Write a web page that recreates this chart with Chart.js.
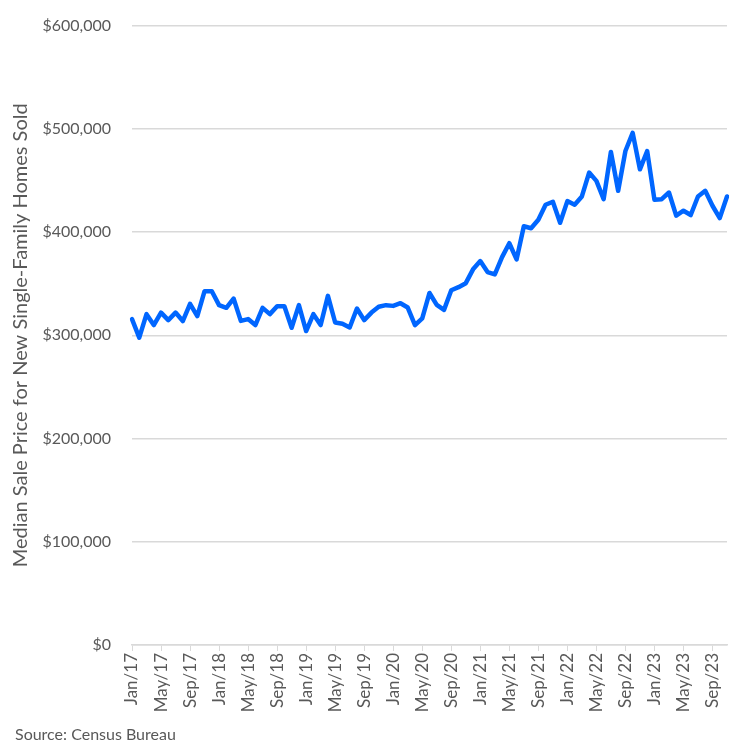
<!DOCTYPE html><html lang="en"><head>
<meta charset="UTF-8">
<title>Median Sale Price for New Single-Family Homes Sold</title>
<script src="https://cdn.jsdelivr.net/npm/chart.js@4.4.1/dist/chart.umd.min.js"></script>
<style>
  body { margin: 0; background: #fff; }
  #wrap { position: relative; width: 750px; height: 751px; }
  #source { position: absolute; left: 15px; top: 724px; font: 16px Lato, sans-serif; color: #595959; }
</style>
</head>
<body>
<div id="wrap">
  <canvas id="myChart"></canvas>
  <div id="source">Source: Census Bureau</div>
</div>
<script>
  // Monthly, Jan 2017 - Nov 2023
  const years = ['17', '18', '19', '20', '21', '22', '23'];
  const months = ['Jan', 'Feb', 'Mar', 'Apr', 'May', 'Jun', 'Jul', 'Aug', 'Sep', 'Oct', 'Nov', 'Dec'];
  const prices = [
    315700, 297700, 320500, 309900, 322000, 314700, 322000, 313800, 330400, 318600, 342700, 342700,
    329200, 326600, 335600, 314000, 315700, 309900, 326600, 320500, 328200, 328200, 307300, 329200,
    304100, 320500, 309900, 338200, 312400, 311200, 307600, 325900, 314700, 322000, 327600, 329200,
    328500, 331100, 326900, 309900, 316500, 341000, 329500, 324600, 343600, 346600, 350500, 363900,
    371900, 361300, 359000, 375700, 389200, 373500, 405600, 403700, 412000, 426500, 429400, 409000,
    430000, 426500, 434500, 457600, 449600, 431900, 477600, 440000, 478500, 496100, 460800, 478500,
    431300, 431900, 438300, 415900, 420700, 416500, 434500, 440000, 425500, 413600, 434500
  ];

  const labels = [];
  years.forEach(y => months.forEach(m => labels.push(m + '/' + y)));
  labels.length = prices.length;

  const grey = '#595959';
  const gridGrey = '#d9d9d9';

  const ctx = document.getElementById('myChart').getContext('2d');
  const myChart = new Chart(ctx, {
    type: 'line',
    data: {
      labels: labels,
      datasets: [{
        label: 'Median Sale Price',
        data: prices,
        borderColor: '#0066ff',
        borderWidth: 4.5,
        borderJoinStyle: 'round',
        borderCapStyle: 'round',
        pointRadius: 0,
        tension: 0,
        fill: false
      }]
    },
    options: {
      responsive: true,
      maintainAspectRatio: false,
      animation: false,
      layout: { padding: { top: 22, right: 23, bottom: 40, left: 9 } },
      plugins: { legend: { display: false }, tooltip: { enabled: false } },
      scales: {
        x: {
          offset: false,
          border: { color: gridGrey, width: 1.5 },
          grid: {
            drawOnChartArea: false,
            tickLength: 6,
            tickColor: c => (c.index % 4 === 0 ? gridGrey : 'rgba(0,0,0,0)')
          },
          ticks: {
            autoSkip: false,
            minRotation: 90,
            maxRotation: 90,
            color: grey,
            font: { family: 'Lato, sans-serif', size: 17 },
            padding: 2,
            callback: function (v, i) { return i % 4 === 0 ? this.getLabelForValue(v) : ''; }
          },
          afterFit: s => { s.height = 66; }
        },
        y: {
          min: 0,
          max: 600000,
          border: { display: false },
          grid: { color: gridGrey, lineWidth: 1.5, tickLength: 5, tickColor: 'rgba(0,0,0,0)' },
          ticks: {
            stepSize: 100000,
            color: grey,
            font: { family: 'Lato, sans-serif', size: 16 },
            padding: 16,
            callback: v => '$' + v.toLocaleString('en-US')
          },
          title: {
            display: true,
            text: 'Median Sale Price for New Single-Family Homes Sold',
            color: grey,
            font: { family: 'Lato, sans-serif', size: 20 },
            padding: { top: 0, bottom: 0 }
          },
          afterFit: s => { s.width = 123; }
        }
      }
    }
  });
</script>
</body></html>
